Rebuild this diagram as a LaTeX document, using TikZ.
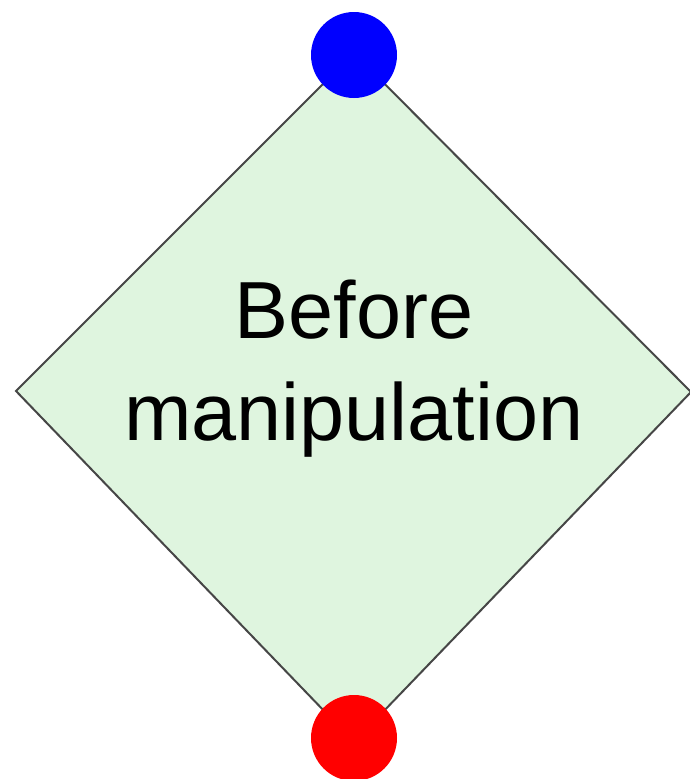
\documentclass[tikz,border=0pt]{standalone}
\usepackage{fontspec}
\setmainfont{Liberation Sans}
\definecolor{diafill}{RGB}{223,245,223}
\definecolor{diaedge}{RGB}{70,70,70}
\begin{document}
\begin{tikzpicture}[x=1pt,y=-1pt,
  shapebox/.style={draw=diaedge,fill=diafill,line width=2pt,line join=miter},
  dot/.style={circle,inner sep=0pt,minimum size=86pt},
  label/.style={align=center,font=\fontsize{81}{102}\selectfont,inner sep=0pt}]
\useasboundingbox (0,0) rectangle (689,779);
\coordinate (top) at (354,53);
\coordinate (right) at (691,392);
\coordinate (bottom) at (354,742);
\coordinate (left) at (16,391);
\draw[shapebox] (top) -- (right) -- (bottom) -- (left) -- cycle;
\node[label,anchor=base] (txt) at (354,440) {Before\\manipulation};
\node[dot,fill=blue] (in) at (354,55) {};
\node[dot,fill=red] (out) at (354,738) {};
\end{tikzpicture}
\end{document}
